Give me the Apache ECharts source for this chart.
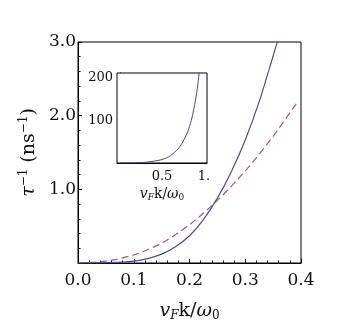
<!DOCTYPE html>
<html>
<head>
<meta charset="utf-8">
<script src="https://cdn.jsdelivr.net/npm/echarts@6/dist/echarts.min.js"></script>
<style>
  html, body { margin: 0; padding: 0; background: #fff; }
  #chart { width: 340px; height: 331px; }
</style>
</head>
<body>
<div id="chart"></div>
<script>
// Scattering rate against normalised wave number v_F k / w0

// solid curve (main panel)
const kSolid = [0, 0.04, 0.07, 0.1, 0.125, 0.15, 0.175, 0.2, 0.225, 0.25, 0.275, 0.3, 0.325, 0.35, 0.362];
const rateSolid = [0, 0.001, 0.008, 0.025, 0.06, 0.12, 0.22, 0.37, 0.59, 0.88, 1.24, 1.67, 2.19, 2.81, 3.12];

// dashed curve (main panel)
const kDashed = [0, 0.05, 0.1, 0.15, 0.2, 0.25, 0.3, 0.35, 0.394];
const rateDashed = [0, 0.025, 0.11, 0.27, 0.52, 0.85, 1.25, 1.72, 2.19];

// inset: solid curve over the full range
const kInset = [0, 0.1, 0.2, 0.3, 0.4, 0.5, 0.6, 0.7, 0.75, 0.8, 0.85, 0.9, 0.925, 0.95];
const rateInset = [0, 0.03, 0.37, 1.7, 4.2, 8, 17, 35, 50, 70, 100, 148, 180, 225];

// tick values
const mainXTicks = [0, 0.1, 0.2, 0.3, 0.4];
const mainYTicks = [1, 2, 3];
const insetXTicks = [0.5, 1];
const insetYTicks = [100, 200];

const SERIF = '"DejaVu Serif", serif';
const SOLID = '#4a4a98';
const DASHED = '#9a5c7c';

const pairs = (xs, ys) => xs.map((x, i) => [x, ys[i]]);

const kName = (size) => ({
  formatter: '{i|v}{s|F}{n|k/}{i|ω}{s0|0}',
  rich: {
    i: { fontFamily: SERIF, fontStyle: 'italic', fontSize: size, color: '#111' },
    n: { fontFamily: SERIF, fontSize: size, color: '#111' },
    s: { fontFamily: SERIF, fontStyle: 'italic', fontSize: Math.round(size * 0.62), color: '#111', padding: [Math.round(size * 0.45), 0, 0, 0] },
    s0: { fontFamily: SERIF, fontSize: Math.round(size * 0.62), color: '#111', padding: [Math.round(size * 0.45), 0, 0, 0] }
  }
});

const xName = kName(19);
const insetName = kName(14);

const chart = echarts.init(document.getElementById('chart'), null, { renderer: 'canvas' });

chart.setOption({
  animation: false,
  backgroundColor: '#fff',
  grid: [
    { left: 78, top: 42, width: 223, height: 221, show: true, borderColor: '#000', borderWidth: 1, backgroundColor: 'transparent' },
    { left: 117, top: 73, width: 90, height: 90, show: true, borderColor: '#000', borderWidth: 1, backgroundColor: '#fff', z: 5 }
  ],
  xAxis: [
    {
      gridIndex: 0, type: 'value', min: 0, max: 0.4, interval: 0.1,
      axisLine: { show: true, lineStyle: { color: '#000', width: 1 } },
      axisTick: { show: true, inside: true, length: 4, lineStyle: { color: '#000' } },
      minorTick: { show: true, splitNumber: 5, length: 2.5, lineStyle: { color: '#000' } },
      splitLine: { show: false },
      axisLabel: {
        customValues: mainXTicks,
        formatter: (v) => v.toFixed(1),
        fontFamily: SERIF, fontSize: 17, color: '#111', margin: 9
      },
      name: xName.formatter, nameLocation: 'middle', nameGap: 38,
      nameTextStyle: { rich: xName.rich }
    },
    {
      gridIndex: 1, type: 'value', min: -0.036, max: 1.036,
      axisLine: { show: true, lineStyle: { color: '#000', width: 1 } },
      axisTick: { show: true, inside: true, length: 3, customValues: insetXTicks, lineStyle: { color: '#000' } },
      splitLine: { show: false },
      axisLabel: {
        customValues: insetXTicks,
        formatter: (v) => (v === 1 ? '1.' : v.toFixed(1)),
        fontFamily: SERIF, fontSize: 13, color: '#111', margin: 7
      },
      name: insetName.formatter, nameLocation: 'middle', nameGap: 24,
      nameTextStyle: { rich: insetName.rich }
    }
  ],
  yAxis: [
    {
      gridIndex: 0, type: 'value', min: 0, max: 3, interval: 1,
      axisLine: { show: true, lineStyle: { color: '#000', width: 1 } },
      axisTick: { show: true, inside: true, length: 4, lineStyle: { color: '#000' } },
      minorTick: { show: true, splitNumber: 5, length: 2.5, lineStyle: { color: '#000' } },
      splitLine: { show: false },
      axisLabel: {
        customValues: mainYTicks,
        formatter: (v) => v.toFixed(1),
        fontFamily: SERIF, fontSize: 17, color: '#111', margin: 2
      },
      name: '{t|τ}{p|−1}{n| (ns}{p|−1}{n|)}',
      nameLocation: 'middle', nameGap: 38, nameRotate: 90,
      nameTextStyle: {
        rich: {
          t: { fontFamily: SERIF, fontStyle: 'italic', fontSize: 19, color: '#111' },
          n: { fontFamily: SERIF, fontSize: 19, color: '#111' },
          p: { fontFamily: SERIF, fontSize: 12, color: '#111', padding: [0, 0, 9, 0] }
        }
      }
    },
    {
      gridIndex: 1, type: 'value', min: 0, max: 210,
      axisLine: { show: true, lineStyle: { color: '#000', width: 1 } },
      axisTick: { show: true, inside: true, length: 3, customValues: insetYTicks, lineStyle: { color: '#000' } },
      splitLine: { show: false },
      axisLabel: {
        customValues: insetYTicks,
        formatter: (v) => String(v),
        fontFamily: SERIF, fontSize: 13, color: '#111', margin: 4
      }
    }
  ],
  series: [
    {
      type: 'line', xAxisIndex: 0, yAxisIndex: 0,
      data: pairs(kDashed, rateDashed),
      smooth: 0.3, showSymbol: false, clip: true,
      lineStyle: { color: DASHED, width: 1.2, type: [7, 4] }
    },
    {
      type: 'line', xAxisIndex: 0, yAxisIndex: 0,
      data: pairs(kSolid, rateSolid),
      smooth: 0.3, showSymbol: false, clip: true,
      lineStyle: { color: SOLID, width: 1.2 }
    },
    {
      type: 'line', xAxisIndex: 1, yAxisIndex: 1,
      data: pairs(kInset, rateInset),
      smooth: 0.3, showSymbol: false, clip: true, z: 6,
      lineStyle: { color: SOLID, width: 1 }
    }
  ]
});
</script>
</body>
</html>
